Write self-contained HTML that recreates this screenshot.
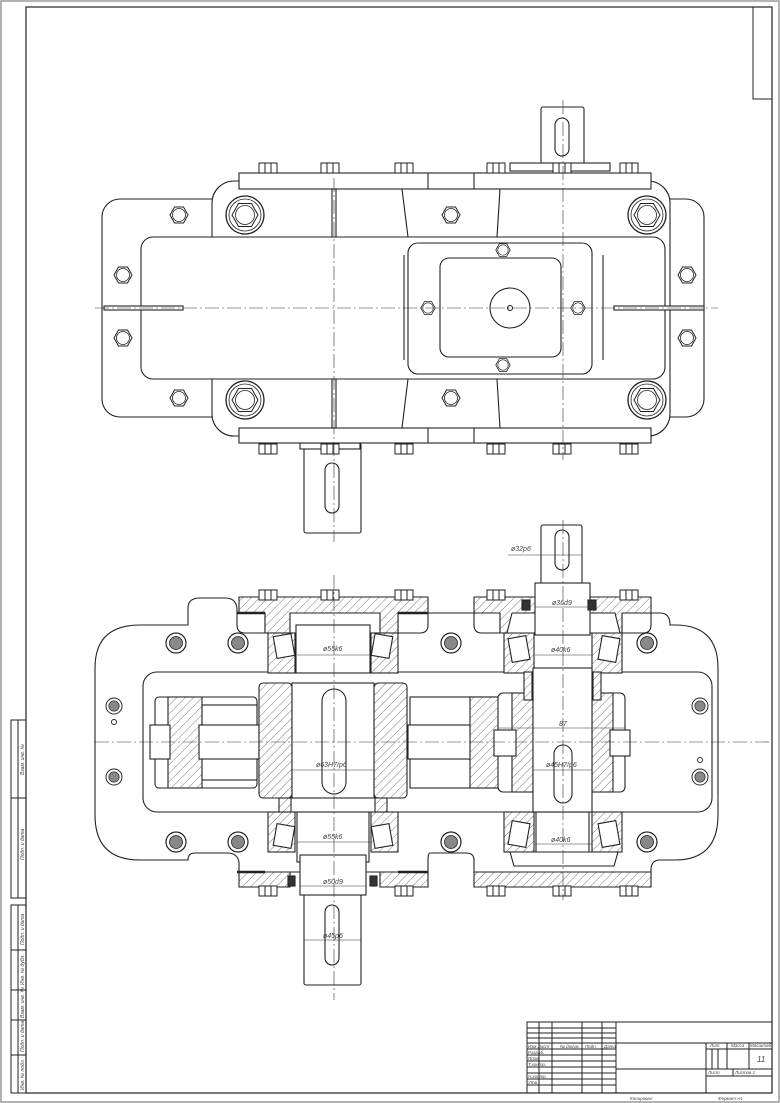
<!DOCTYPE html>
<html><head><meta charset="utf-8"><style>
html,body{margin:0;padding:0;background:#fff;}
svg{display:block;}
text{font-family:"Liberation Sans",sans-serif;font-style:italic;fill:#444;}
</style></head><body>
<svg width="780" height="1103" viewBox="0 0 780 1103" xmlns="http://www.w3.org/2000/svg">
<defs>
<pattern id="h" width="6" height="6" patternUnits="userSpaceOnUse" patternTransform="rotate(45)"><rect width="6" height="6" fill="#fff"/><line x1="0" y1="0" x2="0" y2="6" stroke="#555" stroke-width="0.8"/></pattern>
<pattern id="h2" width="6" height="6" patternUnits="userSpaceOnUse" patternTransform="rotate(-45)"><rect width="6" height="6" fill="#fff"/><line x1="0" y1="0" x2="0" y2="6" stroke="#555" stroke-width="0.8"/></pattern>
<symbol id="hx" viewBox="-10 -10 20 20" overflow="visible"><polygon points="-9,0 -4.5,-8 4.5,-8 9,0 4.5,8 -4.5,8" fill="#fff" stroke="#222" stroke-width="1"/><circle r="6.5" fill="none" stroke="#222" stroke-width="0.8"/></symbol>
<symbol id="bb" viewBox="-20 -20 40 40" overflow="visible"><circle r="19" fill="#fff" stroke="#222" stroke-width="1.3"/><circle r="16" fill="none" stroke="#222" stroke-width="0.8"/><polygon points="-13,0 -6.5,-11.5 6.5,-11.5 13,0 6.5,11.5 -6.5,11.5" fill="#fff" stroke="#222" stroke-width="1"/><circle r="9.5" fill="none" stroke="#222" stroke-width="0.8"/></symbol>
<symbol id="tb" viewBox="-10 -6 20 12" overflow="visible"><rect x="-9" y="-5" width="18" height="10" fill="#fff" stroke="#222" stroke-width="1"/><line x1="-3" y1="-5" x2="-3" y2="5" stroke="#222"/><line x1="3" y1="-5" x2="3" y2="5" stroke="#222"/></symbol>
<symbol id="cb" viewBox="-10 -10 20 20" overflow="visible"><circle r="10" fill="#fff" stroke="#222" stroke-width="1.2"/><circle r="6.5" fill="#888" stroke="#222" stroke-width="0.8"/></symbol>
</defs>
<!-- frames -->
<rect x="1" y="1" width="778" height="1101" fill="none" stroke="#999" stroke-width="1.5"/>
<rect x="26" y="7" width="746" height="1086" fill="none" stroke="#222" stroke-width="1.2"/>
<rect x="753" y="7" width="19" height="92" fill="none" stroke="#222" stroke-width="1"/>
<!-- left strip -->
<g stroke="#222" stroke-width="1" fill="none">
<rect x="11" y="720" width="15" height="178"/><line x1="18" y1="720" x2="18" y2="898"/><line x1="11" y1="798" x2="26" y2="798"/>
<rect x="11" y="905" width="15" height="188"/><line x1="18" y1="905" x2="18" y2="1093"/>
<line x1="11" y1="950" x2="26" y2="950"/><line x1="11" y1="990" x2="26" y2="990"/><line x1="11" y1="1020" x2="26" y2="1020"/><line x1="11" y1="1055" x2="26" y2="1055"/>
</g>
<g font-size="5">
<text transform="translate(24,775) rotate(-90)">Взам. инв. №</text>
<text transform="translate(24,860) rotate(-90)">Подп. и дата</text>
<text transform="translate(24,945) rotate(-90)">Подп. и дата</text>
<text transform="translate(24,985) rotate(-90)">Инв. № дубл.</text>
<text transform="translate(24,1018) rotate(-90)">Взам. инв. №</text>
<text transform="translate(24,1052) rotate(-90)">Подп. и дата</text>
<text transform="translate(24,1090) rotate(-90)">Инв. № подл.</text>
</g>
<!-- title block -->
<g stroke="#222" stroke-width="1" fill="none">
<rect x="527" y="1022" width="245" height="71"/>
<line x1="539" y1="1022" x2="539" y2="1093"/><line x1="552" y1="1022" x2="552" y2="1093"/><line x1="582" y1="1022" x2="582" y2="1093"/><line x1="602" y1="1022" x2="602" y2="1093"/><line x1="616" y1="1022" x2="616" y2="1093"/>
<line x1="527" y1="1028" x2="616" y2="1028"/><line x1="527" y1="1033" x2="616" y2="1033"/><line x1="527" y1="1038" x2="616" y2="1038"/><line x1="527" y1="1043" x2="772" y2="1043"/><line x1="527" y1="1049" x2="616" y2="1049"/><line x1="527" y1="1055" x2="616" y2="1055"/><line x1="527" y1="1061" x2="616" y2="1061"/><line x1="527" y1="1067" x2="616" y2="1067"/><line x1="616" y1="1069" x2="772" y2="1069"/><line x1="527" y1="1073" x2="616" y2="1073"/><line x1="527" y1="1079" x2="616" y2="1079"/><line x1="527" y1="1085" x2="616" y2="1085"/>
<line x1="706" y1="1043" x2="706" y2="1093"/><line x1="706" y1="1049" x2="772" y2="1049"/><line x1="727" y1="1043" x2="727" y2="1069"/><line x1="749" y1="1043" x2="749" y2="1069"/><line x1="733" y1="1069" x2="733" y2="1076"/><line x1="706" y1="1076" x2="772" y2="1076"/>
<line x1="712" y1="1049" x2="712" y2="1069"/><line x1="718" y1="1049" x2="718" y2="1069"/>
</g>
<g font-size="4.5">
<text x="528" y="1048">Изм Лист</text><text x="560" y="1048">№ докум.</text><text x="585" y="1048">Подп.</text><text x="604" y="1048">Дата</text>
<text x="528" y="1054">Разраб.</text><text x="528" y="1060">Пров.</text><text x="528" y="1066">Т.контр.</text><text x="528" y="1078">Н.контр.</text><text x="528" y="1084">Утв.</text>
<text x="710" y="1047">Лит.</text><text x="731" y="1047">Масса</text><text x="750" y="1047">Масштаб</text>
<text x="708" y="1074">Лист</text><text x="735" y="1074">Листов 1</text>
<text x="630" y="1100">Копировал</text><text x="718" y="1100">Формат А1</text>
</g>
<text x="757" y="1062" font-size="8">11</text>

<!-- ================= TOP VIEW ================= -->
<g stroke="#222" stroke-width="1.1" fill="#fff">
<!-- shafts -->
<rect x="541" y="107" width="43" height="62" rx="2"/>
<rect x="555" y="118" width="14" height="38" rx="7"/>
<rect x="304" y="443" width="57" height="90" rx="2"/>
<rect x="325" y="463" width="14" height="50" rx="7"/>
<rect x="510" y="163" width="100" height="8"/>
<rect x="300" y="443" width="60" height="6"/>
<!-- outer ear body -->
<rect x="102" y="199" width="602" height="218" rx="18"/>
<!-- main body -->
<rect x="212" y="181" width="458" height="255" rx="22"/>
<rect x="239" y="173" width="412" height="16"/>
<rect x="239" y="428" width="412" height="15"/>
<line x1="428" y1="173" x2="428" y2="189"/><line x1="474" y1="173" x2="474" y2="189"/>
<line x1="428" y1="428" x2="428" y2="443"/><line x1="474" y1="428" x2="474" y2="443"/>
<line x1="402" y1="189" x2="408" y2="237"/><line x1="500" y1="189" x2="497" y2="237"/>
<line x1="402" y1="428" x2="408" y2="379"/><line x1="500" y1="428" x2="497" y2="379"/>
<!-- inner rect -->
<rect x="141" y="237" width="524" height="142" rx="12"/>
<!-- cover -->
<rect x="408" y="243" width="184" height="131" rx="10"/>
<rect x="440" y="258" width="121" height="99" rx="9"/>
<circle cx="510" cy="308" r="20"/>
<circle cx="510" cy="308" r="2.5" fill="none"/>
<line x1="404" y1="255" x2="404" y2="360"/><line x1="603" y1="255" x2="603" y2="360"/>
<!-- slits -->
<rect x="332" y="189" width="4" height="48"/><rect x="332" y="379" width="4" height="49"/>
<rect x="104" y="306" width="79" height="4"/><rect x="614" y="306" width="90" height="4"/>
</g>
<g>
<use href="#bb" x="245" y="215" width="40" height="40" transform="translate(-20,-20)"/>
<use href="#bb" x="647" y="215" width="40" height="40" transform="translate(-20,-20)"/>
<use href="#bb" x="245" y="400" width="40" height="40" transform="translate(-20,-20)"/>
<use href="#bb" x="647" y="400" width="40" height="40" transform="translate(-20,-20)"/>
<use href="#hx" x="169" y="205" width="20" height="20"/>
<use href="#hx" x="169" y="388" width="20" height="20"/>
<use href="#hx" x="441" y="205" width="20" height="20"/>
<use href="#hx" x="441" y="388" width="20" height="20"/>
<use href="#hx" x="113" y="265" width="20" height="20"/>
<use href="#hx" x="113" y="328" width="20" height="20"/>
<use href="#hx" x="677" y="265" width="20" height="20"/>
<use href="#hx" x="677" y="328" width="20" height="20"/>
<use href="#hx" x="495" y="242" width="16" height="16"/>
<use href="#hx" x="495" y="357" width="16" height="16"/>
<use href="#hx" x="420" y="300" width="16" height="16"/>
<use href="#hx" x="570" y="300" width="16" height="16"/>
<use href="#tb" x="258" y="162" width="20" height="12"/>
<use href="#tb" x="320" y="162" width="20" height="12"/>
<use href="#tb" x="394" y="162" width="20" height="12"/>
<use href="#tb" x="486" y="162" width="20" height="12"/>
<use href="#tb" x="552" y="162" width="20" height="12"/>
<use href="#tb" x="619" y="162" width="20" height="12"/>
<use href="#tb" x="258" y="443" width="20" height="12"/>
<use href="#tb" x="320" y="443" width="20" height="12"/>
<use href="#tb" x="394" y="443" width="20" height="12"/>
<use href="#tb" x="486" y="443" width="20" height="12"/>
<use href="#tb" x="552" y="443" width="20" height="12"/>
<use href="#tb" x="619" y="443" width="20" height="12"/>
</g>
<g stroke="#333" stroke-width="0.6" stroke-dasharray="14,3,2,3" fill="none">
<line x1="95" y1="308" x2="718" y2="308"/>
<line x1="334" y1="178" x2="334" y2="542"/>
<line x1="563" y1="100" x2="563" y2="460"/>
</g>

<!-- ================= SECTION VIEW ================= -->
<g stroke="#222" stroke-width="1.1" fill="#fff">
<!-- shafts out -->
<rect x="541" y="525" width="41" height="60" rx="2"/>
<rect x="555" y="530" width="14" height="40" rx="7"/>
<rect x="304" y="890" width="57" height="95" rx="2"/>
<rect x="325" y="905" width="14" height="60" rx="7"/>
<!-- outer body -->
<path d="M150,625 H188 V608 Q188,598 200,598 H225 Q237,598 237,610 V625 Q237,633 245,633 H265 V613 H398 V633 H420 Q428,633 428,625 V613 H474 V625 Q474,633 482,633 H500 V613 H622 V633 H643 Q651,633 651,625 V613 H660 Q670,613 670,625 H675 Q718,625 718,668 V815 Q718,860 675,860 H660 Q651,860 651,870 V872 H474 V860 Q474,853 466,853 H430 Q428,853 428,860 V872 H239 V862 Q237,853 228,853 H195 Q188,853 188,860 H140 Q95,860 95,815 V668 Q95,625 140,625 Z"/>
<!-- flanges hatched -->
<path d="M239,597 H428 V613 H398 V633 H380 V613 H290 V633 H265 V613 H239 Z" fill="url(#h)"/>
<path d="M474,597 H651 V613 H622 V633 H603 V613 H520 V633 H500 V613 H474 Z" fill="url(#h)"/>
<path d="M239,872 H428 V887 H380 V872 H290 V887 H239 Z" fill="url(#h)"/>
<path d="M474,872 H651 V887 H474 Z" fill="url(#h)"/>
<line x1="237" y1="613" x2="265" y2="613" stroke-width="2.5"/><line x1="398" y1="613" x2="428" y2="613" stroke-width="2.5"/>
<line x1="237" y1="872" x2="265" y2="872" stroke-width="2.5"/><line x1="398" y1="872" x2="428" y2="872" stroke-width="2.5"/>
<!-- inner rect -->
<rect x="143" y="672" width="569" height="140" rx="14"/>
<!-- bearing housings left -->
<rect x="268" y="633" width="27" height="40" fill="url(#h)"/><rect x="371" y="633" width="27" height="40" fill="url(#h)"/>
<rect x="268" y="812" width="27" height="40" fill="url(#h)"/><rect x="371" y="812" width="27" height="40" fill="url(#h)"/>
<rect x="275" y="635" width="18" height="22" transform="rotate(-10 284 646)"/>
<rect x="373" y="635" width="18" height="22" transform="rotate(10 382 646)"/>
<rect x="275" y="825" width="18" height="22" transform="rotate(10 284 836)"/>
<rect x="373" y="825" width="18" height="22" transform="rotate(-10 382 836)"/>
<rect x="296" y="625" width="74" height="48"/>
<rect x="297" y="812" width="72" height="50"/>
<rect x="300" y="855" width="66" height="40"/>
<!-- right housings -->
<rect x="504" y="633" width="30" height="40" fill="url(#h)"/><rect x="592" y="633" width="30" height="40" fill="url(#h)"/>
<rect x="504" y="812" width="30" height="40" fill="url(#h)"/><rect x="592" y="812" width="30" height="40" fill="url(#h)"/>
<rect x="510" y="637" width="18" height="24" transform="rotate(-10 519 649)"/>
<rect x="600" y="637" width="18" height="24" transform="rotate(10 609 649)"/>
<rect x="510" y="822" width="18" height="24" transform="rotate(10 519 834)"/>
<rect x="600" y="822" width="18" height="24" transform="rotate(-10 609 834)"/>
<path d="M512,613 H615 L620,633 H507 Z"/>
<rect x="535" y="583" width="55" height="52"/>
<rect x="536" y="812" width="53" height="42"/>
<path d="M510,852 H618 L614,866 H514 Z"/>
<!-- seals -->
<rect x="522" y="600" width="8" height="10" fill="#333"/><rect x="588" y="600" width="8" height="10" fill="#333"/>
<rect x="288" y="876" width="7" height="10" fill="#333"/><rect x="370" y="876" width="7" height="10" fill="#333"/>
<!-- left gear (pinion) -->
<rect x="155" y="697" width="102" height="91" rx="4"/>
<rect x="168" y="697" width="34" height="91" fill="url(#h)"/>
<rect x="202" y="705" width="55" height="75"/>
<rect x="199" y="725" width="60" height="34"/>
<rect x="150" y="725" width="20" height="34"/>
<!-- middle gear -->
<rect x="410" y="697" width="92" height="91"/>
<rect x="470" y="697" width="32" height="91" fill="url(#h)"/>
<rect x="408" y="725" width="62" height="34"/>
<!-- big gear hubs & shaft -->
<rect x="259" y="683" width="33" height="115" rx="4" fill="url(#h)"/>
<rect x="374" y="683" width="33" height="115" rx="4" fill="url(#h)"/>
<rect x="292" y="683" width="82" height="115"/>
<rect x="322" y="689" width="24" height="105" rx="12"/>
<rect x="279" y="798" width="12" height="14" fill="url(#h)"/><rect x="375" y="798" width="12" height="14" fill="url(#h)"/>
<!-- right gear -->
<rect x="498" y="693" width="127" height="99" rx="5"/>
<rect x="512" y="693" width="21" height="99" fill="url(#h)"/>
<rect x="592" y="693" width="21" height="99" fill="url(#h)"/>
<rect x="494" y="730" width="22" height="26"/><rect x="610" y="730" width="20" height="26"/>
<rect x="533" y="668" width="59" height="144"/>
<rect x="554" y="745" width="18" height="58" rx="9"/>
<rect x="524" y="672" width="8" height="28" fill="url(#h)"/><rect x="593" y="672" width="8" height="28" fill="url(#h)"/>
</g>
<g>
<use href="#cb" x="166" y="633" width="20" height="20"/>
<use href="#cb" x="228" y="633" width="20" height="20"/>
<use href="#cb" x="441" y="633" width="20" height="20"/>
<use href="#cb" x="637" y="633" width="20" height="20"/>
<use href="#cb" x="166" y="832" width="20" height="20"/>
<use href="#cb" x="228" y="832" width="20" height="20"/>
<use href="#cb" x="441" y="832" width="20" height="20"/>
<use href="#cb" x="637" y="832" width="20" height="20"/>
<use href="#cb" x="106" y="698" width="16" height="16"/>
<use href="#cb" x="106" y="769" width="16" height="16"/>
<use href="#cb" x="692" y="698" width="16" height="16"/>
<use href="#cb" x="692" y="769" width="16" height="16"/>
<use href="#tb" x="258" y="589" width="20" height="12"/>
<use href="#tb" x="320" y="589" width="20" height="12"/>
<use href="#tb" x="394" y="589" width="20" height="12"/>
<use href="#tb" x="486" y="589" width="20" height="12"/>
<use href="#tb" x="619" y="589" width="20" height="12"/>
<use href="#tb" x="258" y="885" width="20" height="12"/>
<use href="#tb" x="394" y="885" width="20" height="12"/>
<use href="#tb" x="486" y="885" width="20" height="12"/>
<use href="#tb" x="552" y="885" width="20" height="12"/>
<use href="#tb" x="619" y="885" width="20" height="12"/>
</g>
<circle cx="114" cy="722" r="2.5" fill="none" stroke="#222"/>
<circle cx="700" cy="760" r="2.5" fill="none" stroke="#222"/>
<g stroke="#333" stroke-width="0.6" stroke-dasharray="14,3,2,3" fill="none">
<line x1="95" y1="742" x2="772" y2="742"/>
<line x1="334" y1="575" x2="334" y2="1000"/>
<line x1="563" y1="520" x2="563" y2="900"/>
</g>
<!-- dimension lines -->
<g stroke="#333" stroke-width="0.6">
<line x1="541" y1="555" x2="582" y2="555"/><line x1="508" y1="555" x2="541" y2="555"/>
<line x1="535" y1="607" x2="590" y2="607"/>
<line x1="297" y1="655" x2="371" y2="655"/>
<line x1="535" y1="655" x2="592" y2="655"/>
<line x1="498" y1="728" x2="625" y2="728"/>
<line x1="292" y1="770" x2="374" y2="770"/>
<line x1="533" y1="770" x2="592" y2="770"/>
<line x1="297" y1="842" x2="371" y2="842"/>
<line x1="535" y1="844" x2="592" y2="844"/>
<line x1="300" y1="886" x2="366" y2="886"/>
<line x1="304" y1="940" x2="361" y2="940"/>
</g>
<g font-size="7">
<text x="511" y="551">ø32p6</text>
<text x="552" y="605">ø36d9</text>
<text x="323" y="651">ø55k6</text>
<text x="551" y="652">ø40k6</text>
<text x="559" y="726">87</text>
<text x="316" y="767">ø63H7/p6</text>
<text x="546" y="767">ø45H7/p6</text>
<text x="323" y="839">ø55k6</text>
<text x="551" y="842">ø40k6</text>
<text x="323" y="884">ø50d9</text>
<text x="323" y="938">ø45p6</text>
</g>
</svg>
</body></html>
